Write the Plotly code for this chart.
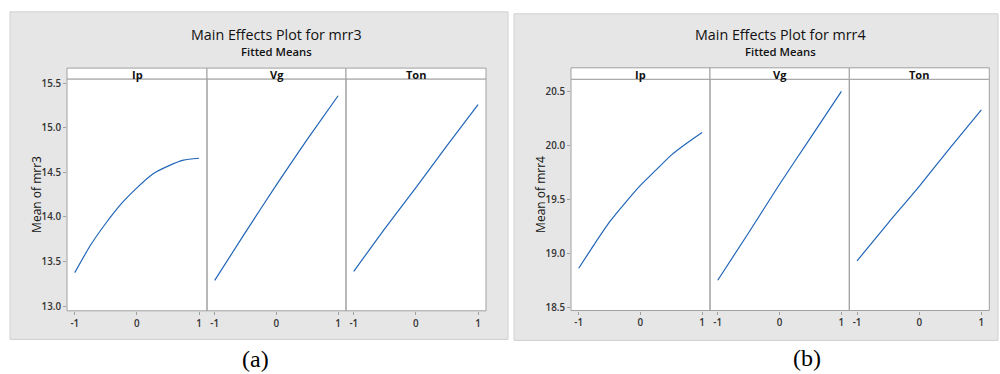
import plotly.graph_objects as go

# ---------------- data ----------------
factors = ["Ip", "Vg", "Ton"]
x_curve = [-1, -0.75, -0.5, -0.25, 0, 0.25, 0.5, 0.75, 1]
x_lin = [-1, -0.5, 0, 0.5, 1]

mrr3_Ip = [13.376, 13.68, 13.93, 14.15, 14.327, 14.48, 14.57, 14.637, 14.659]
mrr3_Vg = [13.29, 13.83, 14.36, 14.87, 15.36]
mrr3_Ton = [13.39, 13.87, 14.33, 14.80, 15.26]

mrr4_Ip = [18.861, 19.08, 19.29, 19.465, 19.629, 19.77, 19.91, 20.02, 20.12]
mrr4_Vg = [18.75, 19.19, 19.64, 20.07, 20.50]
mrr4_Ton = [18.93, 19.28, 19.62, 19.98, 20.33]

x_ticks = [-1, 0, 1]
x_ticktext = ["-1", "0", "1"]
y3_ticks = [13.0, 13.5, 14.0, 14.5, 15.0, 15.5]
y4_ticks = [18.5, 19.0, 19.5, 20.0, 20.5]

titles = ["Main Effects Plot for mrr3", "Main Effects Plot for mrr4"]
subtitle = "Fitted Means"
ylabels = ["Mean of mrr3", "Mean of mrr4"]
captions = ["(a)", "(b)"]

# ---------------- layout geometry (pixels) ----------------
W, H = 1000, 374
def px(x):
    return x / W
def py(y):
    return 1 - y / H

LINE = "#2166b8"
FRAME = "#a0a0a0"
GRAYBG = "#e6e6e6"
TXT = "#262626"
FONT = "Open Sans"

panels = [
    dict(xs=[67, 207, 346, 486], ytop=78, ybot=313, strip=67,
         gray=(10, 10, 508, 342), yrange=[12.948, 15.548], yt=y3_ticks,
         series=[(x_curve, mrr3_Ip), (x_lin, mrr3_Vg), (x_lin, mrr3_Ton)]),
    dict(xs=[571, 710, 849.3, 989.3], ytop=78.3, ybot=312.7, strip=66.7,
         gray=(514, 12, 998, 343), yrange=[18.469, 20.613], yt=y4_ticks,
         series=[(x_curve, mrr4_Ip), (x_lin, mrr4_Vg), (x_lin, mrr4_Ton)]),
]

fig = go.Figure()
layout = dict(
    width=W, height=H, margin=dict(l=0, r=0, t=0, b=0),
    paper_bgcolor="white", plot_bgcolor="rgba(0,0,0,0)",
    showlegend=False, font=dict(family=FONT, color=TXT),
)
shapes = []
annotations = []
TICKFONT = dict(size=9.8, color="#333333", weight=600, family=FONT)

for pi, p in enumerate(panels):
    gx0, gy0, gx1, gy1 = p["gray"]
    shapes.append(dict(type="rect", xref="paper", yref="paper",
                       x0=px(gx0), x1=px(gx1), y0=py(gy1), y1=py(gy0),
                       fillcolor=GRAYBG, line=dict(color="#d0d0d0", width=1),
                       layer="below"))
    yname = "y" if pi == 0 else "y2"
    ykey = "yaxis" if pi == 0 else "yaxis2"
    first_x = 1 + pi * 3
    layout[ykey] = dict(
        domain=[py(p["ybot"]), py(p["ytop"])], range=p["yrange"],
        anchor="x%d" % first_x if first_x > 1 else "x",
        tickvals=p["yt"], ticktext=["%.1f" % v for v in p["yt"]],
        ticks="outside", ticklen=3, tickcolor=FRAME, showgrid=False,
        zeroline=False, showline=False, tickfont=TICKFONT,
    )
    for k in range(3):
        idx = first_x + k
        xname = "x" if idx == 1 else "x%d" % idx
        xkey = "xaxis" if idx == 1 else "xaxis%d" % idx
        layout[xkey] = dict(
            domain=[px(p["xs"][k]), px(p["xs"][k + 1])], range=[-1.125, 1.128],
            anchor=yname, tickvals=x_ticks, ticktext=x_ticktext,
            ticks="outside", ticklen=3, tickcolor=FRAME, showgrid=False,
            zeroline=False, showline=False, tickfont=TICKFONT,
        )
        xs, ys = p["series"][k]
        fig.add_trace(go.Scatter(x=xs, y=ys, mode="lines", xaxis=xname,
                                 yaxis=yname, line=dict(color=LINE, width=1.2,
                                                        shape="spline", smoothing=0.6),
                                 hoverinfo="skip"))
        # white plot area
        shapes.append(dict(type="rect", xref=xname + " domain", yref=yname + " domain",
                           x0=0, x1=1, y0=0, y1=1, fillcolor="white",
                           line=dict(width=0), layer="below"))
        # frame
        shapes.append(dict(type="rect", xref=xname + " domain", yref=yname + " domain",
                           x0=0, x1=1, y0=0, y1=1, fillcolor="rgba(0,0,0,0)",
                           line=dict(color=FRAME, width=1), layer="above"))
        # strip
        shapes.append(dict(type="rect", xref=xname + " domain", yref="paper",
                           x0=0, x1=1, y0=py(p["ytop"]), y1=py(p["strip"]),
                           fillcolor="white", line=dict(color=FRAME, width=1),
                           layer="above"))
        annotations.append(dict(text="<b>%s</b>" % factors[k], xref=xname + " domain",
                                yref="paper", x=0.5, y=py((p["ytop"] + p["strip"]) / 2 + 0.5),
                                showarrow=False, xanchor="center", yanchor="middle",
                                font=dict(size=11, color="#111111", family=FONT)))
    cx = (p["xs"][0] + p["xs"][3]) / 2
    annotations.append(dict(text=titles[pi], xref="paper", yref="paper",
                            x=px(cx), y=py(33), showarrow=False,
                            xanchor="center", yanchor="middle",
                            font=dict(size=14.3, color="#111111", family=FONT)))
    annotations.append(dict(text=subtitle, xref="paper", yref="paper",
                            x=px(cx), y=py(50), showarrow=False,
                            xanchor="center", yanchor="middle",
                            font=dict(size=11.3, color="#111111", family=FONT, weight=600)))
    annotations.append(dict(text=ylabels[pi], xref="paper", yref="paper",
                            x=px(p["xs"][0] - 30), y=py((p["ytop"] + p["ybot"]) / 2),
                            showarrow=False, textangle=-90,
                            xanchor="center", yanchor="middle",
                            font=dict(size=12, color="#111111", family=FONT)))

annotations.append(dict(text=captions[0], xref="paper", yref="paper",
                        x=px(255), y=py(362), showarrow=False,
                        xanchor="center", yanchor="middle",
                        font=dict(size=24, color="black", family="Liberation Serif")))
annotations.append(dict(text=captions[1], xref="paper", yref="paper",
                        x=px(807), y=py(361), showarrow=False,
                        xanchor="center", yanchor="middle",
                        font=dict(size=24, color="black", family="Liberation Serif")))

layout["shapes"] = shapes
layout["annotations"] = annotations
fig.update_layout(**layout)
fig.write_html("out.html")
